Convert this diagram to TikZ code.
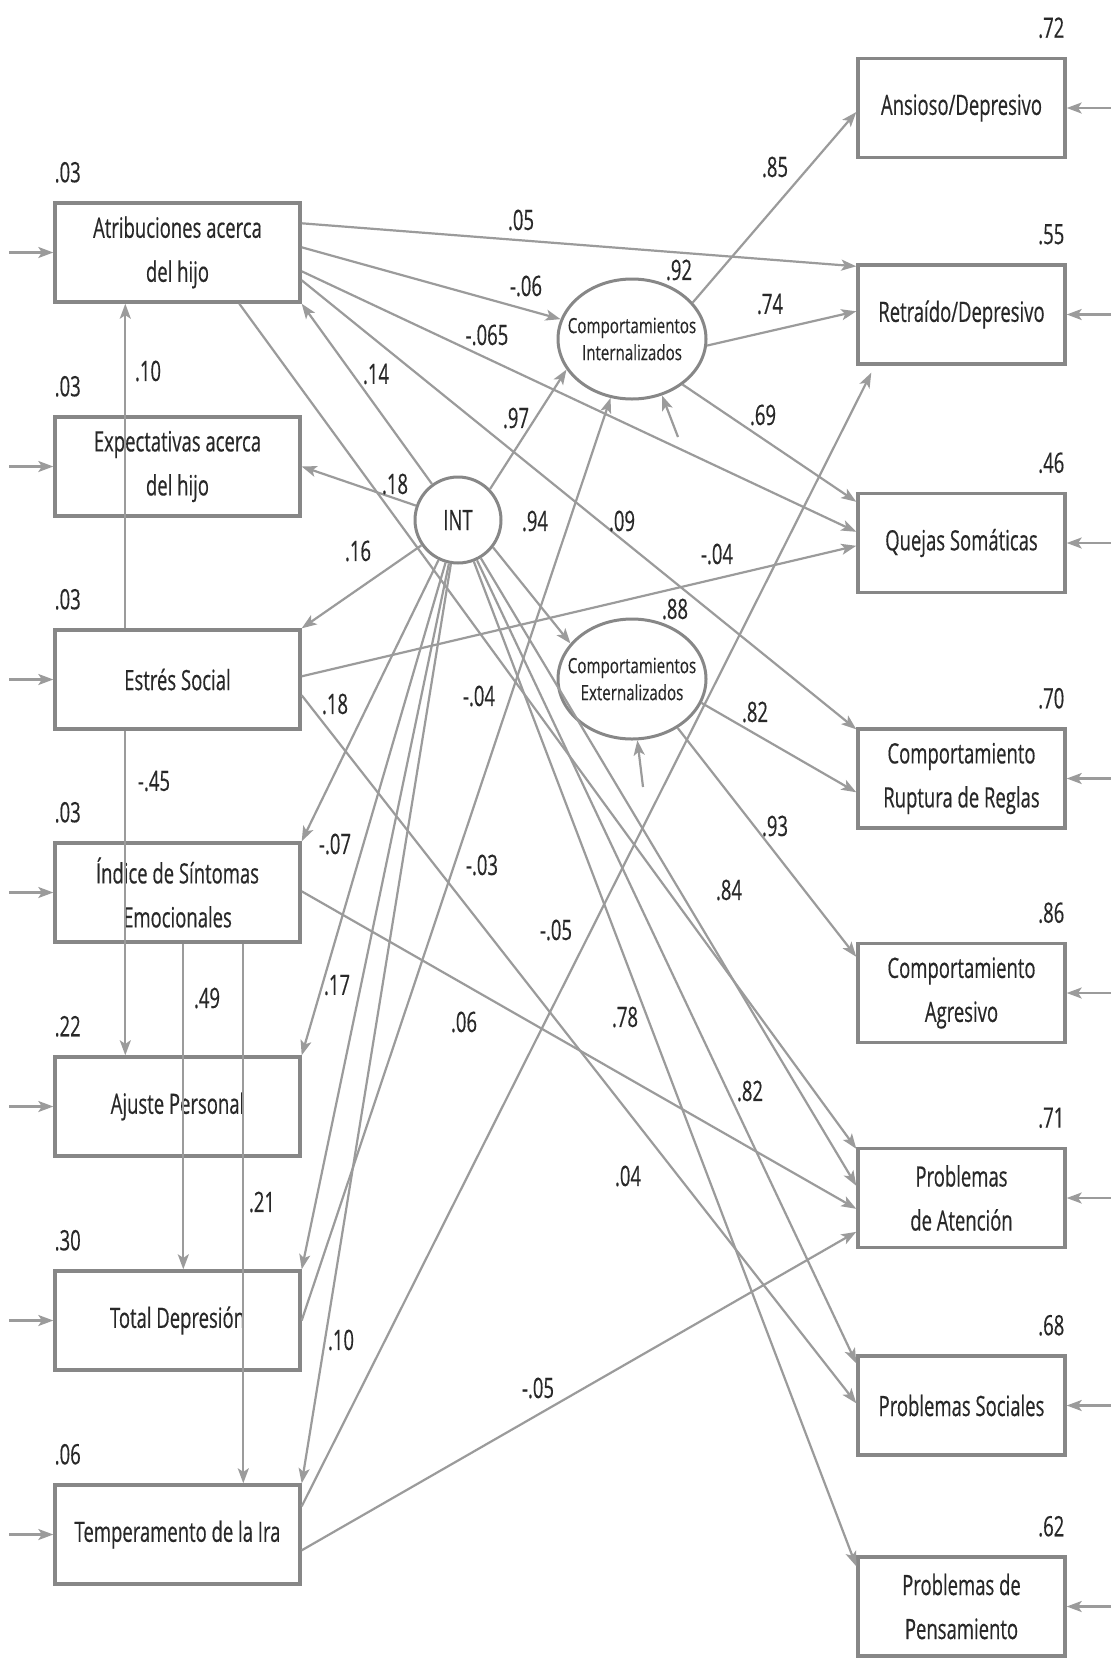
\documentclass[tikz,border=0pt]{standalone}
\usepackage{fontspec}
\usetikzlibrary{arrows.meta,calc,shapes.geometric}
\newfontfamily\condfont{Open Sans}[FakeStretch=0.66,FakeBold=0.4]
\newfontfamily\latfont{Open Sans}[FakeStretch=0.72,FakeBold=0.3]
\definecolor{ink}{RGB}{40,40,40}
\definecolor{frame}{RGB}{135,135,135}
\definecolor{wire}{RGB}{155,155,155}

\begin{document}
\begin{tikzpicture}[x=0.5pt,y=-0.5pt,
  box/.style={draw=frame, line width=1.7pt, minimum width=122.5pt, minimum height=49.5pt,
    inner sep=0pt, align=center, text=ink, font=\condfont\fontsize{14}{22}\selectfont},
  rbox/.style={box, minimum width=103.5pt},
  latent/.style={ellipse, draw=frame, line width=1.5pt, minimum width=74pt, minimum height=60pt, inner sep=0pt},
  lattext/.style={align=center, text=ink, inner sep=0pt, font=\latfont\fontsize{10.5}{13.5}\selectfont},
  factor/.style={circle, draw=frame, line width=1.5pt, minimum size=43pt, inner sep=0pt,
    text=ink, font=\condfont\fontsize{14}{16}\selectfont},
  num/.style={text=ink, inner sep=0pt, font=\condfont\fontsize{14}{16}\selectfont},
  conn/.style={draw=wire, line width=1.1pt, -{Stealth[length=7.5pt,width=5.5pt,inset=1.8pt]}}
]
\fill[white] (0,0) rectangle (1110,1660);
\useasboundingbox (0,0) rectangle (1110,1660);

% predictor boxes (left column)
\node[box] (atr) at (177.5,252.5)  {Atribuciones acerca\\del hijo};
\node[box] (exp) at (177.5,466.5)  {Expectativas acerca\\del hijo};
\node[box] (est) at (177.5,679.5)  {Estrés Social};
\node[box] (ind) at (177.5,892.5)  {Índice de Síntomas\\Emocionales};
\node[box] (aj)  at (177.5,1106.5) {Ajuste Personal};
\node[box] (tot) at (177.5,1320.5) {Total Depresión};
\node[box] (tem) at (177.5,1534.5) {Temperamento de la Ira};

% outcome boxes (right column)
\node[rbox] (ans)  at (961.5,108)    {Ansioso/Depresivo};
\node[rbox] (ret)  at (961.5,314.5)  {Retraído/Depresivo};
\node[rbox] (que)  at (961.5,543)    {Quejas Somáticas};
\node[rbox] (rup)  at (961.5,778.5)  {Comportamiento\\Ruptura de Reglas};
\node[rbox] (agr)  at (961.5,993)    {Comportamiento\\Agresivo};
\node[rbox] (aten) at (961.5,1198)   {Problemas\\de Atención};
\node[rbox] (soc)  at (961.5,1405.5) {Problemas Sociales};
\node[rbox] (pen)  at (961.5,1606.5) {Problemas de\\Pensamiento};

% latent variables
\node[latent, label={[lattext]center:Comportamientos\\Internalizados}] (intz) at (632,339) {};
\node[latent, label={[lattext]center:Comportamientos\\Externalizados}] (extz) at (632,679) {};
\node[factor] (int) at (458,520) {INT};

% explained variance above the boxes
\foreach \b/\v in {atr/.03, exp/.03, est/.03, ind/.03, aj/.22, tot/.30, tem/.06}
  \node[num, anchor=west] (r-\b) at ($(\b.north west)+(1,-29)$) {\v};
\foreach \b/\v in {ans/.72, ret/.55, que/.46, rup/.70, agr/.86, aten/.71, soc/.68, pen/.62}
  \node[num, anchor=east] (r-\b) at ($(\b.north east)+(-2,-29)$) {\v};
\node[num] (r-intz) at (679,270) {.92};
\node[num] (r-extz) at (675,609) {.88};

% error terms
\foreach \b in {atr, exp, est, ind, aj, tot, tem} {
  \coordinate (e-\b) at ($(\b.west)+(-44,0)$);
  \draw[conn] (e-\b) -- (\b.west);
}
\foreach \b in {ans, ret, que, rup, agr, aten, soc, pen} {
  \coordinate (e-\b) at ($(\b.east)+(45,0)$);
  \draw[conn] (e-\b) -- (\b.east);
}
\coordinate (d-intz) at (678,437);
\coordinate (d-extz) at (643,787);
\draw[conn] (d-intz) -- (intz.298);
\draw[conn] (d-extz) -- (extz.275);

% paths from Atribuciones
\draw[conn] ($(atr.north east)+(0,22)$) -- ($(ret.north west)+(0,3)$);
\draw[conn] ($(atr.north east)+(0,46)$) -- (intz);
\draw[conn] ($(atr.north east)+(0,70)$) -- ($(que.north west)+(0,40)$);
\draw[conn] ($(atr.north east)+(0,79)$) -- ($(rup.north west)+(0,2)$);
\draw[conn] ($(atr.south west)+(186,0)$) -- ($(aten.north west)+(0,2)$);

% paths from Estrés Social
\draw[conn] ($(est.north west)+(72,0)$) -- ($(atr.south west)+(72,0)$);
\draw[conn] ($(est.south west)+(72,0)$) -- ($(aj.north west)+(72,0)$);
\draw[conn] ($(est.north east)+(0,48)$) -- ($(que.north west)+(0,54)$);
\draw[conn] ($(est.north east)+(0,67)$) -- ($(soc.north west)+(0,49)$);

% paths from Índice de Síntomas Emocionales
\draw[conn] ($(ind.south west)+(130,0)$) -- ($(tot.north west)+(130,0)$);
\draw[conn] ($(ind.south west)+(190,0)$) -- ($(tem.north west)+(190,0)$);
\draw[conn] ($(ind.north east)+(0,50)$) -- ($(aten.north west)+(0,62)$);

% paths from Total Depresión and Temperamento de la Ira
\draw[conn] (tot.east) -- (intz.250);
\draw[conn] ($(tem.north east)+(0,23)$) -- ($(ret.south west)+(15,7)$);
\draw[conn] ($(tem.north east)+(0,67)$) -- ($(aten.north west)+(0,85)$);

% paths from INT
\foreach \t in {atr.south east, exp.east, est.north east, ind.north east, aj.north east, tot.north east, tem.north east}
  \draw[conn] (int) -- (\t);
\draw[conn] (int.44) -- (intz.205);
\draw[conn] (int.322) -- (extz.150);
\draw[conn] (int) -- ($(aten.north west)+(0,39)$);
\draw[conn] (int) -- ($(soc.north west)+(0,9)$);
\draw[conn] (int) -- ($(pen.north west)+(0,11)$);

% loadings of the latent variables
\draw[conn] (intz.31)  -- ($(ans.west)+(0,4)$);
\draw[conn] (intz.355) -- ($(ret.north west)+(0,48)$);
\draw[conn] (intz.318) -- ($(que.north west)+(0,10)$);
\draw[conn] (extz.341) -- ($(rup.north west)+(0,65)$);
\draw[conn] (extz.313) -- ($(agr.north west)+(0,15)$);

% path coefficients
\node[num] (c01) at (521,220)  {.05};
\node[num] (c02) at (526,286)  {-.06};
\node[num] (c03) at (487,335)  {-.065};
\node[num] (c04) at (376,374)  {.14};
\node[num] (c05) at (148,371)  {.10};
\node[num] (c06) at (770,304)  {.74};
\node[num] (c07) at (775,167)  {.85};
\node[num] (c08) at (516,418)  {.97};
\node[num] (c09) at (763,415)  {.69};
\node[num] (c10) at (395,484)  {.18};
\node[num] (c11) at (535,521)  {.94};
\node[num] (c12) at (622,521)  {.09};
\node[num] (c13) at (717,554)  {-.04};
\node[num] (c14) at (358,551)  {.16};
\node[num] (c15) at (335,704)  {.18};
\node[num] (c16) at (479,696)  {-.04};
\node[num] (c17) at (755,712)  {.82};
\node[num] (c18) at (154,781)  {-.45};
\node[num] (c19) at (775,826)  {.93};
\node[num] (c20) at (335,844)  {-.07};
\node[num] (c21) at (482,865)  {-.03};
\node[num] (c22) at (729,890)  {.84};
\node[num] (c23) at (556,930)  {-.05};
\node[num] (c24) at (207,998)  {.49};
\node[num] (c25) at (337,985)  {.17};
\node[num] (c26) at (464,1022) {.06};
\node[num] (c27) at (625,1017) {.78};
\node[num] (c28) at (750,1091) {.82};
\node[num] (c29) at (628,1176) {.04};
\node[num] (c30) at (262,1202) {.21};
\node[num] (c31) at (341,1340) {.10};
\node[num] (c32) at (538,1388) {-.05};
\end{tikzpicture}
\end{document}
